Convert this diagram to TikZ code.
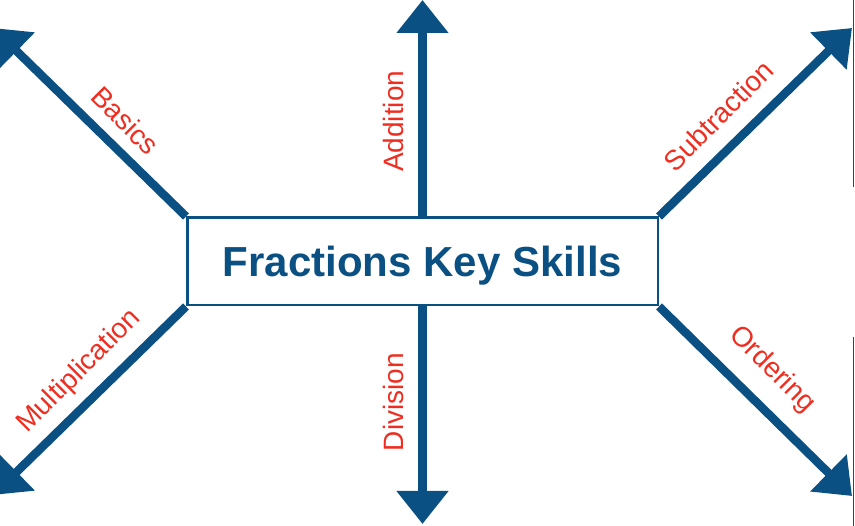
\documentclass[tikz,border=0pt]{standalone}
\usepackage{fontspec}
\setmainfont{Liberation Sans}
\usetikzlibrary{arrows.meta, backgrounds}

\definecolor{skillblue}{RGB}{10,80,130}
\definecolor{skillred}{RGB}{238,46,32}

\begin{document}
\begin{tikzpicture}[
    x=1pt, y=1pt,
    arr/.style={draw=skillblue, line width=8.5pt, -{Triangle[width=50pt,length=33pt]}},
    lbl/.style={text=skillred, font=\fontsize{28}{28}\selectfont, inner sep=0pt, anchor=south},
    hub/.style={draw=skillblue, line width=2.5pt, fill=white, inner sep=0pt,
        minimum width=470.5pt, minimum height=87.5pt, text depth=0pt,
        text=skillblue, font=\bfseries\fontsize{42}{42}\selectfont}
  ]
  \useasboundingbox (0,0) rectangle (855,526);

  \node[hub] (box) at (422.5,264.5) {Fractions Key Skills};

  % arrow tips
  \coordinate (addtip) at (422.5,526);
  \coordinate (divtip) at (422.5,2);
  \coordinate (bastip) at (-7,498);
  \coordinate (subtip) at (852,498);
  \coordinate (multip) at (-7,31);
  \coordinate (ordtip) at (852,30);

  \begin{scope}[on background layer]
    \draw[arr] (box.north) -- (addtip) node[lbl, pos=.44, rotate=90, outer sep=19pt] {Addition};
    \draw[arr] (box.south) -- (divtip) node[lbl, pos=.44, rotate=90, outer sep=18.5pt] {Division};
    \draw[arr] (box.north west) -- (bastip) node[lbl, pos=.41, rotate=-45, outer sep=16pt] {Basics};
    \draw[arr] (box.north east) -- (subtip) node[lbl, pos=.42, rotate=45, outer sep=20pt] {Subtraction};
    \draw[arr] (box.south west) -- (multip) node[lbl, pos=.45, rotate=45, outer sep=15pt] {Multiplication};
    \draw[arr] (box.south east) -- (ordtip) node[lbl, pos=.46, rotate=-45, outer sep=21pt] {Ordering};
  \end{scope}

  % edge of the next panel
  \draw[skillblue, line width=1.5pt] (853.5,526) -- (853.5,339);
  \draw[skillblue, line width=1.5pt] (853.5,189) -- (853.5,0);
\end{tikzpicture}
\end{document}
